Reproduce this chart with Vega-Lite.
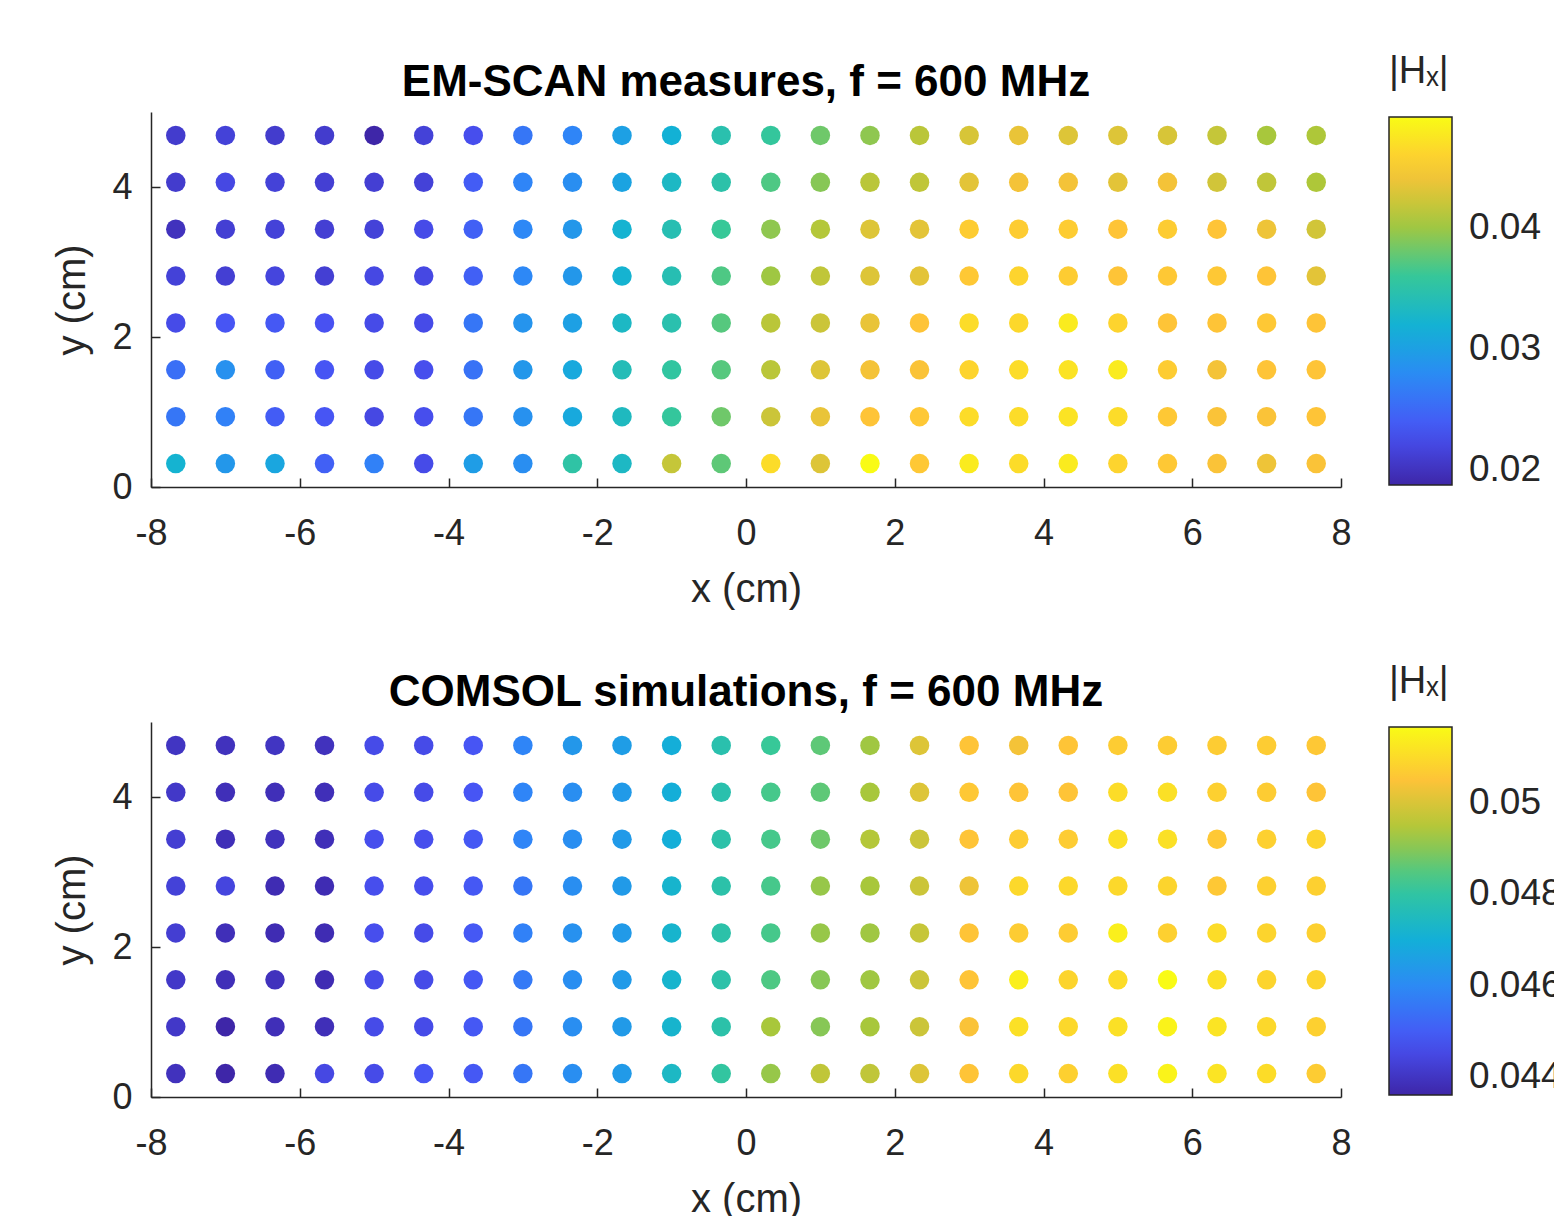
{
"$schema": "https://vega.github.io/schema/vega-lite/v6.json",
"background": "white",
"padding": {"left": 52, "top": 53, "right": 0, "bottom": 0},
"spacing": 54,
"config": {
 "view": {"stroke": null},
 "font": "Liberation Sans",
 "axis": {"grid": false, "domainColor": "#262626", "domainWidth": 1.5, "tickColor": "#262626", "tickWidth": 1.5, "tickSize": -9, "labelFont": "Liberation Sans", "labelFontSize": 36, "labelColor": "#262626", "titleFont": "Liberation Sans", "titleFontSize": 40, "titleFontWeight": "normal", "titleColor": "#262626", "labelFlush": false},
 "title": {"font": "Liberation Sans", "fontSize": 44, "fontWeight": "bold", "color": "#000000", "offset": -52},
 "legend": {"orient": "none", "legendX": 1238, "legendY": -59, "titleFont": "Liberation Sans", "titleFontSize": 38, "titleFontWeight": "normal", "titleColor": "#262626", "titlePadding": 26, "gradientLength": 368, "gradientThickness": 63, "gradientStrokeColor": "#262626", "gradientStrokeWidth": 1.5, "labelFont": "Liberation Sans", "labelFontSize": 37, "labelColor": "#262626", "labelOffset": 17, "direction": "vertical", "labelOverlap": false}
},
"datasets": {
"meas": [
{"x":-7.667,"y":4.6875,"v":0.02089},{"x":-7,"y":4.6875,"v":0.02149},{"x":-6.333,"y":4.6875,"v":0.02089},{"x":-5.667,"y":4.6875,"v":0.02089},{"x":-5,"y":4.6875,"v":0.01876},{"x":-4.333,"y":4.6875,"v":0.02149},{"x":-3.667,"y":4.6875,"v":0.02271},{"x":-3,"y":4.6875,"v":0.02605},{"x":-2.333,"y":4.6875,"v":0.02726},{"x":-1.667,"y":4.6875,"v":0.02999},{"x":-1,"y":4.6875,"v":0.03181},{"x":-0.333,"y":4.6875,"v":0.03455},{"x":0.333,"y":4.6875,"v":0.03576},{"x":1,"y":4.6875,"v":0.03819},{"x":1.667,"y":4.6875,"v":0.0394},{"x":2.333,"y":4.6875,"v":0.04123},{"x":3,"y":4.6875,"v":0.04274},{"x":3.667,"y":4.6875,"v":0.04366},{"x":4.333,"y":4.6875,"v":0.04305},{"x":5,"y":4.6875,"v":0.04305},{"x":5.667,"y":4.6875,"v":0.04274},{"x":6.333,"y":4.6875,"v":0.04183},{"x":7,"y":4.6875,"v":0.04032},{"x":7.667,"y":4.6875,"v":0.04062},
{"x":-7.667,"y":4.0625,"v":0.02089},{"x":-7,"y":4.0625,"v":0.0221},{"x":-6.333,"y":4.0625,"v":0.02149},{"x":-5.667,"y":4.0625,"v":0.02119},{"x":-5,"y":4.0625,"v":0.02119},{"x":-4.333,"y":4.0625,"v":0.02149},{"x":-3.667,"y":4.0625,"v":0.02392},{"x":-3,"y":4.0625,"v":0.02726},{"x":-2.333,"y":4.0625,"v":0.02817},{"x":-1.667,"y":4.0625,"v":0.0303},{"x":-1,"y":4.0625,"v":0.03303},{"x":-0.333,"y":4.0625,"v":0.03485},{"x":0.333,"y":4.0625,"v":0.03698},{"x":1,"y":4.0625,"v":0.0391},{"x":1.667,"y":4.0625,"v":0.04123},{"x":2.333,"y":4.0625,"v":0.04153},{"x":3,"y":4.0625,"v":0.04335},{"x":3.667,"y":4.0625,"v":0.04426},{"x":4.333,"y":4.0625,"v":0.04426},{"x":5,"y":4.0625,"v":0.04335},{"x":5.667,"y":4.0625,"v":0.04426},{"x":6.333,"y":4.0625,"v":0.04244},{"x":7,"y":4.0625,"v":0.04153},{"x":7.667,"y":4.0625,"v":0.04062},
{"x":-7.667,"y":3.4375,"v":0.01997},{"x":-7,"y":3.4375,"v":0.02119},{"x":-6.333,"y":3.4375,"v":0.02149},{"x":-5.667,"y":3.4375,"v":0.02119},{"x":-5,"y":3.4375,"v":0.02149},{"x":-4.333,"y":3.4375,"v":0.0224},{"x":-3.667,"y":3.4375,"v":0.02422},{"x":-3,"y":3.4375,"v":0.02756},{"x":-2.333,"y":3.4375,"v":0.02908},{"x":-1.667,"y":3.4375,"v":0.03212},{"x":-1,"y":3.4375,"v":0.03424},{"x":-0.333,"y":3.4375,"v":0.03607},{"x":0.333,"y":3.4375,"v":0.0394},{"x":1,"y":3.4375,"v":0.04092},{"x":1.667,"y":3.4375,"v":0.04305},{"x":2.333,"y":3.4375,"v":0.04335},{"x":3,"y":3.4375,"v":0.04548},{"x":3.667,"y":3.4375,"v":0.04548},{"x":4.333,"y":3.4375,"v":0.04548},{"x":5,"y":3.4375,"v":0.04487},{"x":5.667,"y":3.4375,"v":0.04548},{"x":6.333,"y":3.4375,"v":0.04487},{"x":7,"y":3.4375,"v":0.04396},{"x":7.667,"y":3.4375,"v":0.04244},
{"x":-7.667,"y":2.8125,"v":0.02149},{"x":-7,"y":2.8125,"v":0.02119},{"x":-6.333,"y":2.8125,"v":0.0218},{"x":-5.667,"y":2.8125,"v":0.02119},{"x":-5,"y":2.8125,"v":0.0221},{"x":-4.333,"y":2.8125,"v":0.0221},{"x":-3.667,"y":2.8125,"v":0.02422},{"x":-3,"y":2.8125,"v":0.02756},{"x":-2.333,"y":2.8125,"v":0.02908},{"x":-1.667,"y":2.8125,"v":0.03212},{"x":-1,"y":2.8125,"v":0.03424},{"x":-0.333,"y":2.8125,"v":0.03698},{"x":0.333,"y":2.8125,"v":0.04001},{"x":1,"y":2.8125,"v":0.04153},{"x":1.667,"y":2.8125,"v":0.04305},{"x":2.333,"y":2.8125,"v":0.04335},{"x":3,"y":2.8125,"v":0.04517},{"x":3.667,"y":2.8125,"v":0.04608},{"x":4.333,"y":2.8125,"v":0.04548},{"x":5,"y":2.8125,"v":0.04487},{"x":5.667,"y":2.8125,"v":0.04517},{"x":6.333,"y":2.8125,"v":0.04517},{"x":7,"y":2.8125,"v":0.04487},{"x":7.667,"y":2.8125,"v":0.04335},
{"x":-7.667,"y":2.1875,"v":0.0224},{"x":-7,"y":2.1875,"v":0.02331},{"x":-6.333,"y":2.1875,"v":0.02362},{"x":-5.667,"y":2.1875,"v":0.02301},{"x":-5,"y":2.1875,"v":0.0224},{"x":-4.333,"y":2.1875,"v":0.0224},{"x":-3.667,"y":2.1875,"v":0.02605},{"x":-3,"y":2.1875,"v":0.02878},{"x":-2.333,"y":2.1875,"v":0.02999},{"x":-1.667,"y":2.1875,"v":0.03303},{"x":-1,"y":2.1875,"v":0.03455},{"x":-0.333,"y":2.1875,"v":0.03728},{"x":0.333,"y":2.1875,"v":0.04123},{"x":1,"y":2.1875,"v":0.04214},{"x":1.667,"y":2.1875,"v":0.04366},{"x":2.333,"y":2.1875,"v":0.04487},{"x":3,"y":2.1875,"v":0.04669},{"x":3.667,"y":2.1875,"v":0.04639},{"x":4.333,"y":2.1875,"v":0.04791},{"x":5,"y":2.1875,"v":0.04608},{"x":5.667,"y":2.1875,"v":0.04487},{"x":6.333,"y":2.1875,"v":0.04487},{"x":7,"y":2.1875,"v":0.04517},{"x":7.667,"y":2.1875,"v":0.04487},
{"x":-7.667,"y":1.5625,"v":0.02544},{"x":-7,"y":1.5625,"v":0.02848},{"x":-6.333,"y":1.5625,"v":0.02422},{"x":-5.667,"y":1.5625,"v":0.02331},{"x":-5,"y":1.5625,"v":0.0224},{"x":-4.333,"y":1.5625,"v":0.02271},{"x":-3.667,"y":1.5625,"v":0.02574},{"x":-3,"y":1.5625,"v":0.02908},{"x":-2.333,"y":1.5625,"v":0.0309},{"x":-1.667,"y":1.5625,"v":0.03394},{"x":-1,"y":1.5625,"v":0.03546},{"x":-0.333,"y":1.5625,"v":0.03728},{"x":0.333,"y":1.5625,"v":0.04123},{"x":1,"y":1.5625,"v":0.04305},{"x":1.667,"y":1.5625,"v":0.04426},{"x":2.333,"y":1.5625,"v":0.04457},{"x":3,"y":1.5625,"v":0.04608},{"x":3.667,"y":1.5625,"v":0.04669},{"x":4.333,"y":1.5625,"v":0.0473},{"x":5,"y":1.5625,"v":0.04791},{"x":5.667,"y":1.5625,"v":0.04548},{"x":6.333,"y":1.5625,"v":0.04426},{"x":7,"y":1.5625,"v":0.04487},{"x":7.667,"y":1.5625,"v":0.04487},
{"x":-7.667,"y":0.9375,"v":0.02605},{"x":-7,"y":0.9375,"v":0.02696},{"x":-6.333,"y":0.9375,"v":0.02392},{"x":-5.667,"y":0.9375,"v":0.02331},{"x":-5,"y":0.9375,"v":0.0221},{"x":-4.333,"y":0.9375,"v":0.02271},{"x":-3.667,"y":0.9375,"v":0.02605},{"x":-3,"y":0.9375,"v":0.02848},{"x":-2.333,"y":0.9375,"v":0.0309},{"x":-1.667,"y":0.9375,"v":0.03333},{"x":-1,"y":0.9375,"v":0.03576},{"x":-0.333,"y":0.9375,"v":0.03819},{"x":0.333,"y":0.9375,"v":0.04214},{"x":1,"y":0.9375,"v":0.04366},{"x":1.667,"y":0.9375,"v":0.04487},{"x":2.333,"y":0.9375,"v":0.04517},{"x":3,"y":0.9375,"v":0.04669},{"x":3.667,"y":0.9375,"v":0.04669},{"x":4.333,"y":0.9375,"v":0.0473},{"x":5,"y":0.9375,"v":0.04669},{"x":5.667,"y":0.9375,"v":0.04517},{"x":6.333,"y":0.9375,"v":0.04457},{"x":7,"y":0.9375,"v":0.04457},{"x":7.667,"y":0.9375,"v":0.04487},
{"x":-7.667,"y":0.3125,"v":0.03212},{"x":-7,"y":0.3125,"v":0.02908},{"x":-6.333,"y":0.3125,"v":0.0306},{"x":-5.667,"y":0.3125,"v":0.02422},{"x":-5,"y":0.3125,"v":0.02696},{"x":-4.333,"y":0.3125,"v":0.0224},{"x":-3.667,"y":0.3125,"v":0.02969},{"x":-3,"y":0.3125,"v":0.02817},{"x":-2.333,"y":0.3125,"v":0.03515},{"x":-1.667,"y":0.3125,"v":0.03303},{"x":-1,"y":0.3125,"v":0.04183},{"x":-0.333,"y":0.3125,"v":0.03758},{"x":0.333,"y":0.3125,"v":0.04669},{"x":1,"y":0.3125,"v":0.04305},{"x":1.667,"y":0.3125,"v":0.04912},{"x":2.333,"y":0.3125,"v":0.04517},{"x":3,"y":0.3125,"v":0.04791},{"x":3.667,"y":0.3125,"v":0.04669},{"x":4.333,"y":0.3125,"v":0.04791},{"x":5,"y":0.3125,"v":0.04608},{"x":5.667,"y":0.3125,"v":0.04517},{"x":6.333,"y":0.3125,"v":0.04457},{"x":7,"y":0.3125,"v":0.04396},{"x":7.667,"y":0.3125,"v":0.04457}
],
"sim": [
{"x":-7.667,"y":4.6875,"v":0.04401},{"x":-7,"y":4.6875,"v":0.04393},{"x":-6.333,"y":4.6875,"v":0.04401},{"x":-5.667,"y":4.6875,"v":0.04393},{"x":-5,"y":4.6875,"v":0.04458},{"x":-4.333,"y":4.6875,"v":0.04458},{"x":-3.667,"y":4.6875,"v":0.04482},{"x":-3,"y":4.6875,"v":0.04586},{"x":-2.333,"y":4.6875,"v":0.04635},{"x":-1.667,"y":4.6875,"v":0.04651},{"x":-1,"y":4.6875,"v":0.04699},{"x":-0.333,"y":4.6875,"v":0.0478},{"x":0.333,"y":4.6875,"v":0.0482},{"x":1,"y":4.6875,"v":0.0486},{"x":1.667,"y":4.6875,"v":0.04925},{"x":2.333,"y":4.6875,"v":0.05005},{"x":3,"y":4.6875,"v":0.05053},{"x":3.667,"y":4.6875,"v":0.05037},{"x":4.333,"y":4.6875,"v":0.05053},{"x":5,"y":4.6875,"v":0.05069},{"x":5.667,"y":4.6875,"v":0.05069},{"x":6.333,"y":4.6875,"v":0.05069},{"x":7,"y":4.6875,"v":0.05069},{"x":7.667,"y":4.6875,"v":0.05061},
{"x":-7.667,"y":4.0625,"v":0.04409},{"x":-7,"y":4.0625,"v":0.04385},{"x":-6.333,"y":4.0625,"v":0.04385},{"x":-5.667,"y":4.0625,"v":0.04385},{"x":-5,"y":4.0625,"v":0.04458},{"x":-4.333,"y":4.0625,"v":0.04458},{"x":-3.667,"y":4.0625,"v":0.04482},{"x":-3,"y":4.0625,"v":0.04586},{"x":-2.333,"y":4.0625,"v":0.04611},{"x":-1.667,"y":4.0625,"v":0.04643},{"x":-1,"y":4.0625,"v":0.04699},{"x":-0.333,"y":4.0625,"v":0.0478},{"x":0.333,"y":4.0625,"v":0.04836},{"x":1,"y":4.0625,"v":0.0486},{"x":1.667,"y":4.0625,"v":0.04933},{"x":2.333,"y":4.0625,"v":0.05005},{"x":3,"y":4.0625,"v":0.05061},{"x":3.667,"y":4.0625,"v":0.05053},{"x":4.333,"y":4.0625,"v":0.05053},{"x":5,"y":4.0625,"v":0.05102},{"x":5.667,"y":4.0625,"v":0.0511},{"x":6.333,"y":4.0625,"v":0.05077},{"x":7,"y":4.0625,"v":0.05069},{"x":7.667,"y":4.0625,"v":0.05053},
{"x":-7.667,"y":3.4375,"v":0.04425},{"x":-7,"y":3.4375,"v":0.04385},{"x":-6.333,"y":3.4375,"v":0.04393},{"x":-5.667,"y":3.4375,"v":0.04385},{"x":-5,"y":3.4375,"v":0.04466},{"x":-4.333,"y":3.4375,"v":0.04466},{"x":-3.667,"y":3.4375,"v":0.0449},{"x":-3,"y":3.4375,"v":0.04586},{"x":-2.333,"y":3.4375,"v":0.04611},{"x":-1.667,"y":3.4375,"v":0.04643},{"x":-1,"y":3.4375,"v":0.04699},{"x":-0.333,"y":3.4375,"v":0.04788},{"x":0.333,"y":3.4375,"v":0.04836},{"x":1,"y":3.4375,"v":0.04876},{"x":1.667,"y":3.4375,"v":0.04949},{"x":2.333,"y":3.4375,"v":0.04981},{"x":3,"y":3.4375,"v":0.05053},{"x":3.667,"y":3.4375,"v":0.05069},{"x":4.333,"y":3.4375,"v":0.05069},{"x":5,"y":3.4375,"v":0.0511},{"x":5.667,"y":3.4375,"v":0.0511},{"x":6.333,"y":3.4375,"v":0.05061},{"x":7,"y":3.4375,"v":0.05077},{"x":7.667,"y":3.4375,"v":0.05086},
{"x":-7.667,"y":2.8125,"v":0.04433},{"x":-7,"y":2.8125,"v":0.04442},{"x":-6.333,"y":2.8125,"v":0.04377},{"x":-5.667,"y":2.8125,"v":0.04377},{"x":-5,"y":2.8125,"v":0.04466},{"x":-4.333,"y":2.8125,"v":0.04466},{"x":-3.667,"y":2.8125,"v":0.0449},{"x":-3,"y":2.8125,"v":0.04554},{"x":-2.333,"y":2.8125,"v":0.04611},{"x":-1.667,"y":2.8125,"v":0.04643},{"x":-1,"y":2.8125,"v":0.04723},{"x":-0.333,"y":2.8125,"v":0.04788},{"x":0.333,"y":2.8125,"v":0.04836},{"x":1,"y":2.8125,"v":0.04916},{"x":1.667,"y":2.8125,"v":0.04933},{"x":2.333,"y":2.8125,"v":0.04981},{"x":3,"y":2.8125,"v":0.05029},{"x":3.667,"y":2.8125,"v":0.05094},{"x":4.333,"y":2.8125,"v":0.05094},{"x":5,"y":2.8125,"v":0.05094},{"x":5.667,"y":2.8125,"v":0.05086},{"x":6.333,"y":2.8125,"v":0.05061},{"x":7,"y":2.8125,"v":0.05077},{"x":7.667,"y":2.8125,"v":0.05077},
{"x":-7.667,"y":2.1875,"v":0.04425},{"x":-7,"y":2.1875,"v":0.04385},{"x":-6.333,"y":2.1875,"v":0.04377},{"x":-5.667,"y":2.1875,"v":0.04377},{"x":-5,"y":2.1875,"v":0.04466},{"x":-4.333,"y":2.1875,"v":0.04458},{"x":-3.667,"y":2.1875,"v":0.0449},{"x":-3,"y":2.1875,"v":0.04578},{"x":-2.333,"y":2.1875,"v":0.04619},{"x":-1.667,"y":2.1875,"v":0.04643},{"x":-1,"y":2.1875,"v":0.04723},{"x":-0.333,"y":2.1875,"v":0.04788},{"x":0.333,"y":2.1875,"v":0.04836},{"x":1,"y":2.1875,"v":0.04916},{"x":1.667,"y":2.1875,"v":0.04925},{"x":2.333,"y":2.1875,"v":0.04973},{"x":3,"y":2.1875,"v":0.05053},{"x":3.667,"y":2.1875,"v":0.05069},{"x":4.333,"y":2.1875,"v":0.05069},{"x":5,"y":2.1875,"v":0.05142},{"x":5.667,"y":2.1875,"v":0.05077},{"x":6.333,"y":2.1875,"v":0.05102},{"x":7,"y":2.1875,"v":0.05086},{"x":7.667,"y":2.1875,"v":0.05077},
{"x":-7.667,"y":1.5625,"v":0.04409},{"x":-7,"y":1.5625,"v":0.04385},{"x":-6.333,"y":1.5625,"v":0.04393},{"x":-5.667,"y":1.5625,"v":0.04377},{"x":-5,"y":1.5625,"v":0.04458},{"x":-4.333,"y":1.5625,"v":0.04458},{"x":-3.667,"y":1.5625,"v":0.0449},{"x":-3,"y":1.5625,"v":0.04562},{"x":-2.333,"y":1.5625,"v":0.04611},{"x":-1.667,"y":1.5625,"v":0.04643},{"x":-1,"y":1.5625,"v":0.04723},{"x":-0.333,"y":1.5625,"v":0.04788},{"x":0.333,"y":1.5625,"v":0.04844},{"x":1,"y":1.5625,"v":0.049},{"x":1.667,"y":1.5625,"v":0.04925},{"x":2.333,"y":1.5625,"v":0.04981},{"x":3,"y":1.5625,"v":0.05053},{"x":3.667,"y":1.5625,"v":0.05142},{"x":4.333,"y":1.5625,"v":0.05086},{"x":5,"y":1.5625,"v":0.05102},{"x":5.667,"y":1.5625,"v":0.05166},{"x":6.333,"y":1.5625,"v":0.0511},{"x":7,"y":1.5625,"v":0.05086},{"x":7.667,"y":1.5625,"v":0.05086},
{"x":-7.667,"y":0.9375,"v":0.04409},{"x":-7,"y":0.9375,"v":0.04361},{"x":-6.333,"y":0.9375,"v":0.04385},{"x":-5.667,"y":0.9375,"v":0.04385},{"x":-5,"y":0.9375,"v":0.04458},{"x":-4.333,"y":0.9375,"v":0.04458},{"x":-3.667,"y":0.9375,"v":0.0449},{"x":-3,"y":0.9375,"v":0.04554},{"x":-2.333,"y":0.9375,"v":0.04611},{"x":-1.667,"y":0.9375,"v":0.04643},{"x":-1,"y":0.9375,"v":0.04723},{"x":-0.333,"y":0.9375,"v":0.04788},{"x":0.333,"y":0.9375,"v":0.04933},{"x":1,"y":0.9375,"v":0.049},{"x":1.667,"y":0.9375,"v":0.04933},{"x":2.333,"y":0.9375,"v":0.04981},{"x":3,"y":0.9375,"v":0.05045},{"x":3.667,"y":0.9375,"v":0.0511},{"x":4.333,"y":0.9375,"v":0.05094},{"x":5,"y":0.9375,"v":0.0511},{"x":5.667,"y":0.9375,"v":0.0515},{"x":6.333,"y":0.9375,"v":0.05118},{"x":7,"y":0.9375,"v":0.05094},{"x":7.667,"y":0.9375,"v":0.05077},
{"x":-7.667,"y":0.3125,"v":0.04393},{"x":-7,"y":0.3125,"v":0.04361},{"x":-6.333,"y":0.3125,"v":0.04377},{"x":-5.667,"y":0.3125,"v":0.0445},{"x":-5,"y":0.3125,"v":0.04458},{"x":-4.333,"y":0.3125,"v":0.04482},{"x":-3.667,"y":0.3125,"v":0.0449},{"x":-3,"y":0.3125,"v":0.04554},{"x":-2.333,"y":0.3125,"v":0.04611},{"x":-1.667,"y":0.3125,"v":0.04643},{"x":-1,"y":0.3125,"v":0.04739},{"x":-0.333,"y":0.3125,"v":0.04804},{"x":0.333,"y":0.3125,"v":0.04916},{"x":1,"y":0.3125,"v":0.04965},{"x":1.667,"y":0.3125,"v":0.04965},{"x":2.333,"y":0.3125,"v":0.05005},{"x":3,"y":0.3125,"v":0.05053},{"x":3.667,"y":0.3125,"v":0.05094},{"x":4.333,"y":0.3125,"v":0.05077},{"x":5,"y":0.3125,"v":0.0511},{"x":5.667,"y":0.3125,"v":0.0515},{"x":6.333,"y":0.3125,"v":0.05118},{"x":7,"y":0.3125,"v":0.05102},{"x":7.667,"y":0.3125,"v":0.05069}
]
},
"vconcat": [
{
 "title": "EM-SCAN measures, f = 600 MHz",
 "data": {"name": "meas"},
 "width": 1190, "height": 375,
 "mark": {"type": "circle", "size": 380, "opacity": 1},
 "encoding": {
  "x": {"field": "x", "type": "quantitative", "scale": {"domain": [-8, 8], "nice": false, "zero": false}, "axis": {"title": "x (cm)", "values": [-8,-6,-4,-2,0,2,4,6,8], "labelExpr": "'' + datum.value", "labelPadding": 38, "titlePadding": 18}},
  "y": {"field": "y", "type": "quantitative", "scale": {"domain": [0, 5], "nice": false}, "axis": {"title": "y (cm)", "values": [0,2,4], "labelExpr": "'' + datum.value", "labelPadding": 28, "titlePadding": 19}},
  "color": {"field": "v", "type": "quantitative",
   "scale": {"domain": [0.01876,0.023097,0.027434,0.031771,0.036109,0.040446,0.044783,0.04912], "range": ["#3e26a8","#4852f4","#2e87f7","#12b1d6","#37c897","#abc739","#fec338","#f9fb15"], "interpolate": "rgb"},
   "legend": {"title": "|Hₓ|", "values": [0.02, 0.03, 0.04], "format": "~g", "labelOffset": 17}}
 }
},
{
 "title": "COMSOL simulations, f = 600 MHz",
 "data": {"name": "sim"},
 "width": 1190, "height": 375,
 "mark": {"type": "circle", "size": 380, "opacity": 1},
 "encoding": {
  "x": {"field": "x", "type": "quantitative", "scale": {"domain": [-8, 8], "nice": false, "zero": false}, "axis": {"title": "x (cm)", "values": [-8,-6,-4,-2,0,2,4,6,8], "labelExpr": "'' + datum.value", "labelPadding": 38, "titlePadding": 18}},
  "y": {"field": "y", "type": "quantitative", "scale": {"domain": [0, 5], "nice": false}, "axis": {"title": "y (cm)", "values": [0,2,4], "labelExpr": "'' + datum.value", "labelPadding": 28, "titlePadding": 19}},
  "color": {"field": "v", "type": "quantitative",
   "scale": {"domain": [0.04361,0.04476,0.04591,0.04706,0.04821,0.04936,0.05051,0.05166], "range": ["#3e26a8","#4852f4","#2e87f7","#12b1d6","#37c897","#abc739","#fec338","#f9fb15"], "interpolate": "rgb"},
   "legend": {"title": "|Hₓ|", "values": [0.044, 0.046, 0.048, 0.05], "format": "~g", "labelOffset": 17}}
 }
}
],
"resolve": {"scale": {"color": "independent"}, "legend": {"color": "independent"}}
}
